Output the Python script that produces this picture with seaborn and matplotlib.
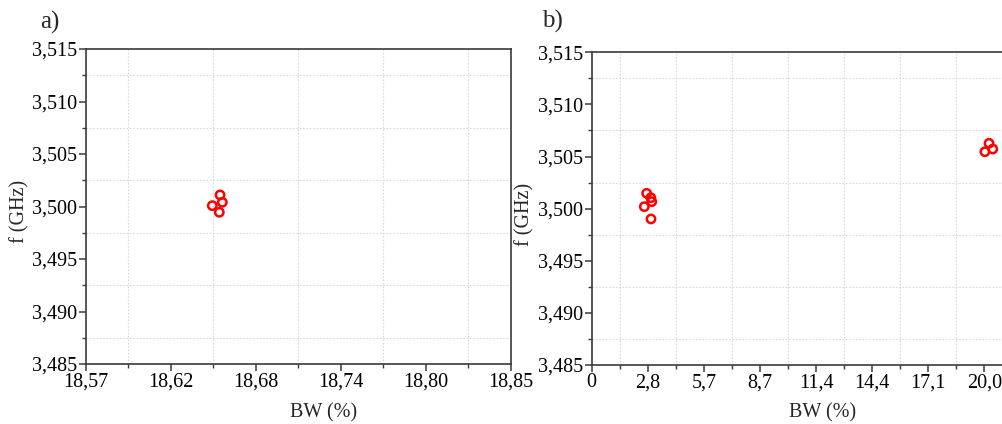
import numpy as np
import pandas as pd
import matplotlib
matplotlib.use("Agg")
import matplotlib.pyplot as plt
from matplotlib.ticker import FixedLocator, FixedFormatter
import seaborn as sns

# ---- data ----
bw_a = [18.6586, 18.6601, 18.6535, 18.6581]
f_a = [3.50110, 3.50040, 3.50008, 3.49945]

bw_b = [2.80, 3.01, 3.06, 2.68, 3.02, 20.03, 20.24, 20.43]
f_b = [3.50147, 3.50105, 3.50067, 3.50019, 3.49901, 3.50546, 3.50627, 3.50572]

xlabels_a = ["18,57", "18,62", "18,68", "18,74", "18,80", "18,85"]
xlabels_b = ["0", "2,8", "5,7", "8,7", "11,4", "14,4", "17,1", "20,0"]
ylabels = ["3,485", "3,490", "3,495", "3,500", "3,505", "3,510", "3,515"]
yticks = [3.485, 3.490, 3.495, 3.500, 3.505, 3.510, 3.515]

sns.set_theme(style="white")
plt.rcParams['font.family'] = ['Liberation Serif', 'DejaVu Serif']
plt.rcParams['mathtext.fontset'] = 'stix'

W, H = 1002, 424
fig = plt.figure(figsize=(W / 100, H / 100), dpi=100)

def px_axes(l, t, r, b):
    return fig.add_axes([l / W, 1 - b / H, (r - l) / W, (b - t) / H])

ax_a = px_axes(85.5, 49, 510.7, 364)
ax_b = px_axes(591.7, 52.3, 1004, 365)

spine_col = "#3a3a3a"
grid_col = "#d9d9d9"
FS = 14.5

def style(ax, xmin, xmax, xt, xl):
    ax.set_xlim(xmin, xmax)
    ax.set_ylim(3.485, 3.515)
    ax.xaxis.set_major_locator(FixedLocator(xt))
    ax.xaxis.set_major_formatter(FixedFormatter(xl))
    xm = [(xt[i] + xt[i + 1]) / 2 for i in range(len(xt) - 1)]
    if xt[-1] + (xt[1] - xt[0]) / 2 < xmax:
        xm.append(xt[-1] + (xt[1] - xt[0]) / 2)
    ax.xaxis.set_minor_locator(FixedLocator(xm))
    ax.yaxis.set_major_locator(FixedLocator(yticks))
    ax.yaxis.set_major_formatter(FixedFormatter(ylabels))
    ym = [(yticks[i] + yticks[i + 1]) / 2 for i in range(len(yticks) - 1)]
    ax.yaxis.set_minor_locator(FixedLocator(ym))
    for s in ax.spines.values():
        s.set_color(spine_col)
        s.set_linewidth(1.2)
    ax.tick_params(which='major', direction='out', length=5, width=1.1,
                   color=spine_col, labelsize=FS, pad=1, labelcolor='black')
    ax.tick_params(which='minor', direction='out', length=3, width=1.0,
                   color=spine_col)
    ax.tick_params(bottom=True, left=True, top=False, right=False)
    ax.tick_params(which='minor', bottom=True, left=True, top=False, right=False)
    ax.grid(False)
    ax.grid(True, which='minor', color=grid_col, linestyle=(0, (1.5, 1.5)), linewidth=0.8)
    ax.set_axisbelow(True)
    ax.set_facecolor('white')

style(ax_a, 18.57, 18.85, list(np.linspace(18.57, 18.85, 6)), xlabels_a)
step_b = 20.0 / 7
style(ax_b, 0, step_b * (1004 - 591.7) / 56.09, [i * step_b for i in range(8)], xlabels_b)

df_a = pd.DataFrame({"BW": bw_a, "f": f_a})
df_b = pd.DataFrame({"BW": bw_b, "f": f_b})

for ax, df in ((ax_a, df_a), (ax_b, df_b)):
    sns.scatterplot(data=df, x="BW", y="f", ax=ax, marker='o', s=36,
                    facecolor='none', edgecolor='#ff0000', linewidth=1.8,
                    zorder=5, clip_on=False)
    ax.set_xlabel("BW (%)", fontsize=FS)
    ax.set_ylabel("f (GHz)", fontsize=FS)

ax_a.xaxis.set_label_coords(0.561, -0.124)
ax_b.xaxis.set_label_coords(0.559, -0.122)
ax_a.yaxis.set_label_coords((29 - 85.5) / 425.2, 0.483)
ax_b.yaxis.set_label_coords((534 - 591.7) / 412.3, 0.483)

fig.text(50 / W, 1 - 22 / H, "a)", fontsize=18, ha='center', va='center')
fig.text(552 / W, 1 - 21 / H, "b)", fontsize=18, ha='center', va='center')

fig.savefig("out.png", dpi=100, facecolor='white')
